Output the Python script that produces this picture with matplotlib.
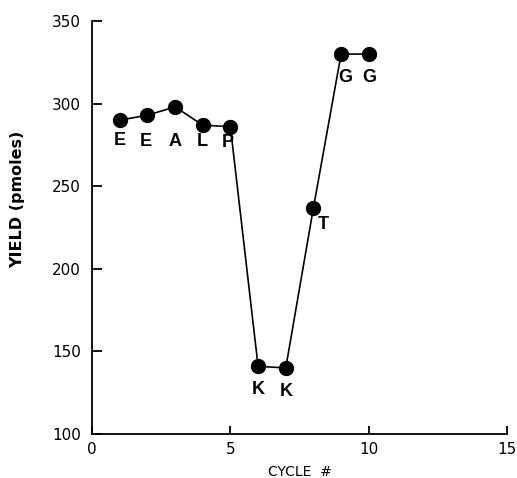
import matplotlib
matplotlib.use("Agg")
import matplotlib.pyplot as plt

cycles = [1, 2, 3, 4, 5, 6, 7, 8, 9, 10]
yields = [290, 293, 298, 287, 286, 141, 140, 237, 330, 330]
residues = ["E", "E", "A", "L", "P", "K", "K", "T", "G", "G"]
x_ticks = [0, 5, 10, 15]
y_ticks = [100, 150, 200, 250, 300, 350]

# label offsets from each point (in points)
label_dx = [0, -1.4, 0, 0, -1.8, 0, 0, 6.8, 2.9, 0]
label_dy = [-15, -19, -25, -12, -11.3, -16.6, -16.6, -12, -16.8, -16.8]

fig = plt.figure(figsize=(5.17, 4.78), dpi=100)
ax = fig.add_axes([0.178, 0.092, 0.803, 0.864])
ax.plot(cycles, yields, color="black", lw=1.2, marker="o", ms=10,
        mfc="black", mec="black", zorder=3)

for x, y, r, dx, dy in zip(cycles, yields, residues, label_dx, label_dy):
    ax.annotate(r, (x, y), xytext=(dx, dy), textcoords="offset points",
                ha="center", va="center", fontsize=13, fontweight="bold",
                family="Liberation Sans")

ax.set_xlim(0, 15)
ax.set_ylim(100, 350)
ax.set_xticks(x_ticks)
ax.set_yticks(y_ticks)
for s in ["top", "right"]:
    ax.spines[s].set_visible(False)
for s in ["left", "bottom"]:
    ax.spines[s].set_linewidth(1.3)
ax.tick_params(axis="y", direction="in", length=7, width=1.3, labelsize=11, pad=8)
ax.tick_params(axis="x", direction="in", length=6, width=1.3, labelsize=11, pad=6)
ax.set_xlabel("CYCLE  #", fontsize=10)
ax.xaxis.set_label_coords(0.5, -0.075)
ax.set_ylabel("YIELD (pmoles)", fontsize=11.5, fontweight="bold")
ax.yaxis.set_label_coords(-0.16, 0.567)
fig.savefig("out.png", dpi=100)
